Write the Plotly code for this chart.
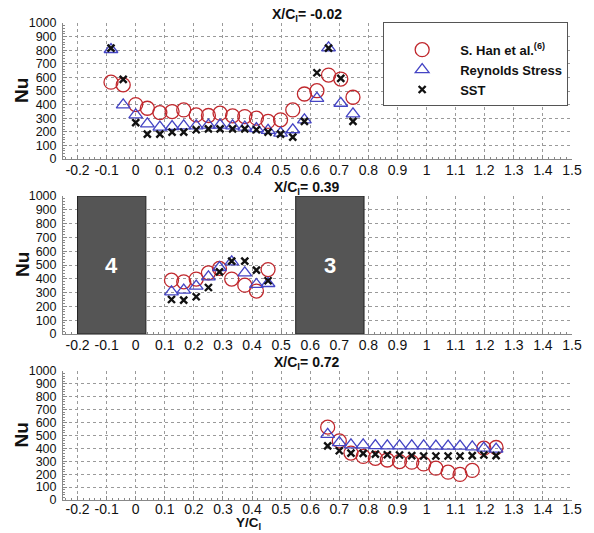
import plotly.graph_objects as go

# ---- data ----
# Panel 1: X/C_l = -0.02
p1_y = [-0.085, -0.043, 0.0, 0.04, 0.083, 0.125, 0.165, 0.208, 0.25, 0.29, 0.333,
        0.375, 0.415, 0.455, 0.498, 0.54, 0.58, 0.623, 0.663, 0.705, 0.747]
p1_han = [565, 545, 400, 373, 341, 349, 361, 324, 320, 337, 317,
          312, 300, 276, 288, 361, 478, 502, 617, 588, 454]
p1_rsm = [805, 398, 324, 258, 234, 239, 244, 244, 249, 249, 244,
          234, 224, 210, 190, 215, 288, 446, 817, 410, 332]
p1_sst = [815, 585, 268, 183, 183, 198, 198, 215, 222, 222, 222,
          222, 215, 198, 183, 161, 276, 634, 815, 593, 276]

# Panel 2: X/C_l = 0.39
p2_y = [0.123, 0.165, 0.208, 0.25, 0.288, 0.33, 0.375, 0.415, 0.455]
p2_han = [390, 378, 398, 443, 475, 398, 354, 311, 467]
p2_rsm = [306, 318, 347, 414, 482, 523, 443, 359, 366]
p2_sst = [250, 246, 270, 337, 450, 528, 528, 463, 386]

# Panel 3: X/C_l = 0.72
p3_y = [0.66, 0.7, 0.74, 0.782, 0.824, 0.865, 0.907, 0.949, 0.99, 1.032,
        1.074, 1.115, 1.157, 1.197, 1.239]
p3_han = [565, 458, 364, 338, 323, 310, 298, 293, 280, 247, 216, 198, 229, 402, 407]
p3_rsm = [509, 445, 427, 427, 422, 420, 420, 420, 420, 418, 418, 418, 412, 402, 394]
p3_sst = [420, 382, 364, 361, 356, 351, 349, 344, 341, 341, 341, 341, 344, 349, 344]

panel_titles = ["X/C<sub>l</sub>= -0.02", "X/C<sub>l</sub>= 0.39", "X/C<sub>l</sub>= 0.72"]
series_names = ["S. Han et al.<sup>(6)</sup>", "Reynolds Stress", "SST"]

# Blade blocks in panel 2
blade_labels = ["4", "3"]
blade_start = [-0.2, 0.55]
blade_end = [0.035, 0.785]
blade_top = 1000

x_ticks = [-0.2, -0.1, 0, 0.1, 0.2, 0.3, 0.4, 0.5, 0.6, 0.7, 0.8, 0.9, 1, 1.1,
           1.2, 1.3, 1.4, 1.5]
x_tick_text = ["-0.2", "-0.1", "0", "0.1", "0.2", "0.3", "0.4", "0.5", "0.6", "0.7",
               "0.8", "0.9", "1", "1.1", "1.2", "1.3", "1.4", "1.5"]
y_ticks = list(range(0, 1001, 100))

# ---- styling ----
FONT = "Liberation Sans, Arial, sans-serif"
RED = "#c0282d"
BLUE = "#4444c4"
BLACK = "#111111"

fig = go.Figure()

panels = [(p1_y, p1_han, p1_rsm, p1_sst), (p2_y, p2_han, p2_rsm, p2_sst),
          (p3_y, p3_han, p3_rsm, p3_sst)]

for i, (yy, han, rsm, sst) in enumerate(panels):
    ax = "" if i == 0 else str(i + 1)
    show = i == 0
    fig.add_trace(go.Scatter(
        x=yy, y=han, mode="markers", name="<b>%s</b>" % series_names[0], legendgroup="a",
        showlegend=show, xaxis="x" + ax, yaxis="y" + ax,
        marker=dict(symbol="circle-open", size=14, color=RED, line=dict(width=1.3, color=RED))))
    fig.add_trace(go.Scatter(
        x=yy, y=rsm, mode="markers", name="<b>%s</b>" % series_names[1], legendgroup="b",
        showlegend=show, xaxis="x" + ax, yaxis="y" + ax,
        marker=dict(symbol="triangle-up-open", size=12, color=BLUE, line=dict(width=1.3, color=BLUE))))
    fig.add_trace(go.Scatter(
        x=yy, y=sst, mode="markers", name="<b>%s</b>" % series_names[2], legendgroup="c",
        showlegend=show, xaxis="x" + ax, yaxis="y" + ax,
        marker=dict(symbol="x-thin", size=7, color=BLACK, line=dict(width=2.4, color=BLACK))))

domains = [[0.7149, 1.0], [0.348, 0.6373], [0.0, 0.2704]]

axis_common = dict(
    showline=True, linecolor="#888888", linewidth=1,
    showgrid=True, gridcolor="#9a9a9a", griddash="dot", gridwidth=1,
    zeroline=False, ticks="inside", ticklen=4, tickcolor="#888888",
)

layout = {}
for i in range(3):
    ax = "" if i == 0 else str(i + 1)
    layout["xaxis" + ax] = dict(
        axis_common, domain=[0, 1], anchor="y" + ax, range=[-0.25, 1.5],
        tickvals=x_ticks, ticktext=x_tick_text,
        ticklabelstandoff=(-4 if i == 2 else -2),
        tickfont=dict(family=FONT, size=14, color="#111111"),
        minor=dict(ticks="inside", ticklen=2, tickcolor="#888888", dtick=0.02, showgrid=False),
    )
    layout["yaxis" + ax] = dict(
        axis_common, domain=domains[i], anchor="x" + ax, range=[0, 1000],
        tickvals=y_ticks, ticklabelstandoff=3,
        tickfont=dict(family=FONT, size=12.5, color="#111111"),
        minor=dict(ticks="inside", ticklen=2, tickcolor="#888888", dtick=20, showgrid=False),
    )

fig.update_layout(**layout)

shapes = []
annotations = []
for lab, x0, x1 in zip(blade_labels, blade_start, blade_end):
    shapes.append(dict(type="rect", xref="x2", yref="y2", x0=x0, x1=x1, y0=0, y1=blade_top,
                       fillcolor="#555555", line=dict(color="#222222", width=1), layer="above"))
    annotations.append(dict(xref="x2", yref="y2", x=(x0 + x1) / 2, y=blade_top / 2,
                            text="<b>%s</b>" % lab, showarrow=False,
                            font=dict(family=FONT, size=22, color="white")))

for t, d in zip(panel_titles, domains):
    annotations.append(dict(xref="paper", yref="paper", x=0.48, y=d[1], yshift=-2,
                            xanchor="center", yanchor="bottom", borderpad=0,
                            text="<b>%s</b>" % t,
                            showarrow=False, font=dict(family=FONT, size=14, color="#111111")))

for d in domains:
    annotations.append(dict(xref="paper", yref="paper", x=0, xshift=-41,
                            y=(d[0] + d[1]) / 2, text="<b>Nu</b>", textangle=-90,
                            showarrow=False, xanchor="center", yanchor="middle",
                            font=dict(family=FONT, size=19, color="#111111")))

annotations.append(dict(xref="paper", yref="paper", x=0.365, y=0, yshift=-33,
                        xanchor="center", yanchor="bottom", borderpad=0,
                        text="<b>Y/C<sub>l</sub></b>",
                        showarrow=False, font=dict(family=FONT, size=13.5, color="#111111")))

fig.update_layout(
    width=594, height=533,
    margin=dict(l=63, r=16, t=23, b=33),
    paper_bgcolor="white", plot_bgcolor="white",
    font=dict(family=FONT, size=14, color="#111111"),
    shapes=shapes, annotations=annotations,
    legend=dict(x=0.629, y=1.002, xanchor="left", yanchor="top",
                bgcolor="white", bordercolor="#555555", borderwidth=1,
                itemwidth=66, tracegroupgap=0,
                title=dict(text="&nbsp;", font=dict(family=FONT, size=9)),
                font=dict(family=FONT, size=13, color="#111111"),
                traceorder="grouped"),
)

fig.write_html("out.html")
